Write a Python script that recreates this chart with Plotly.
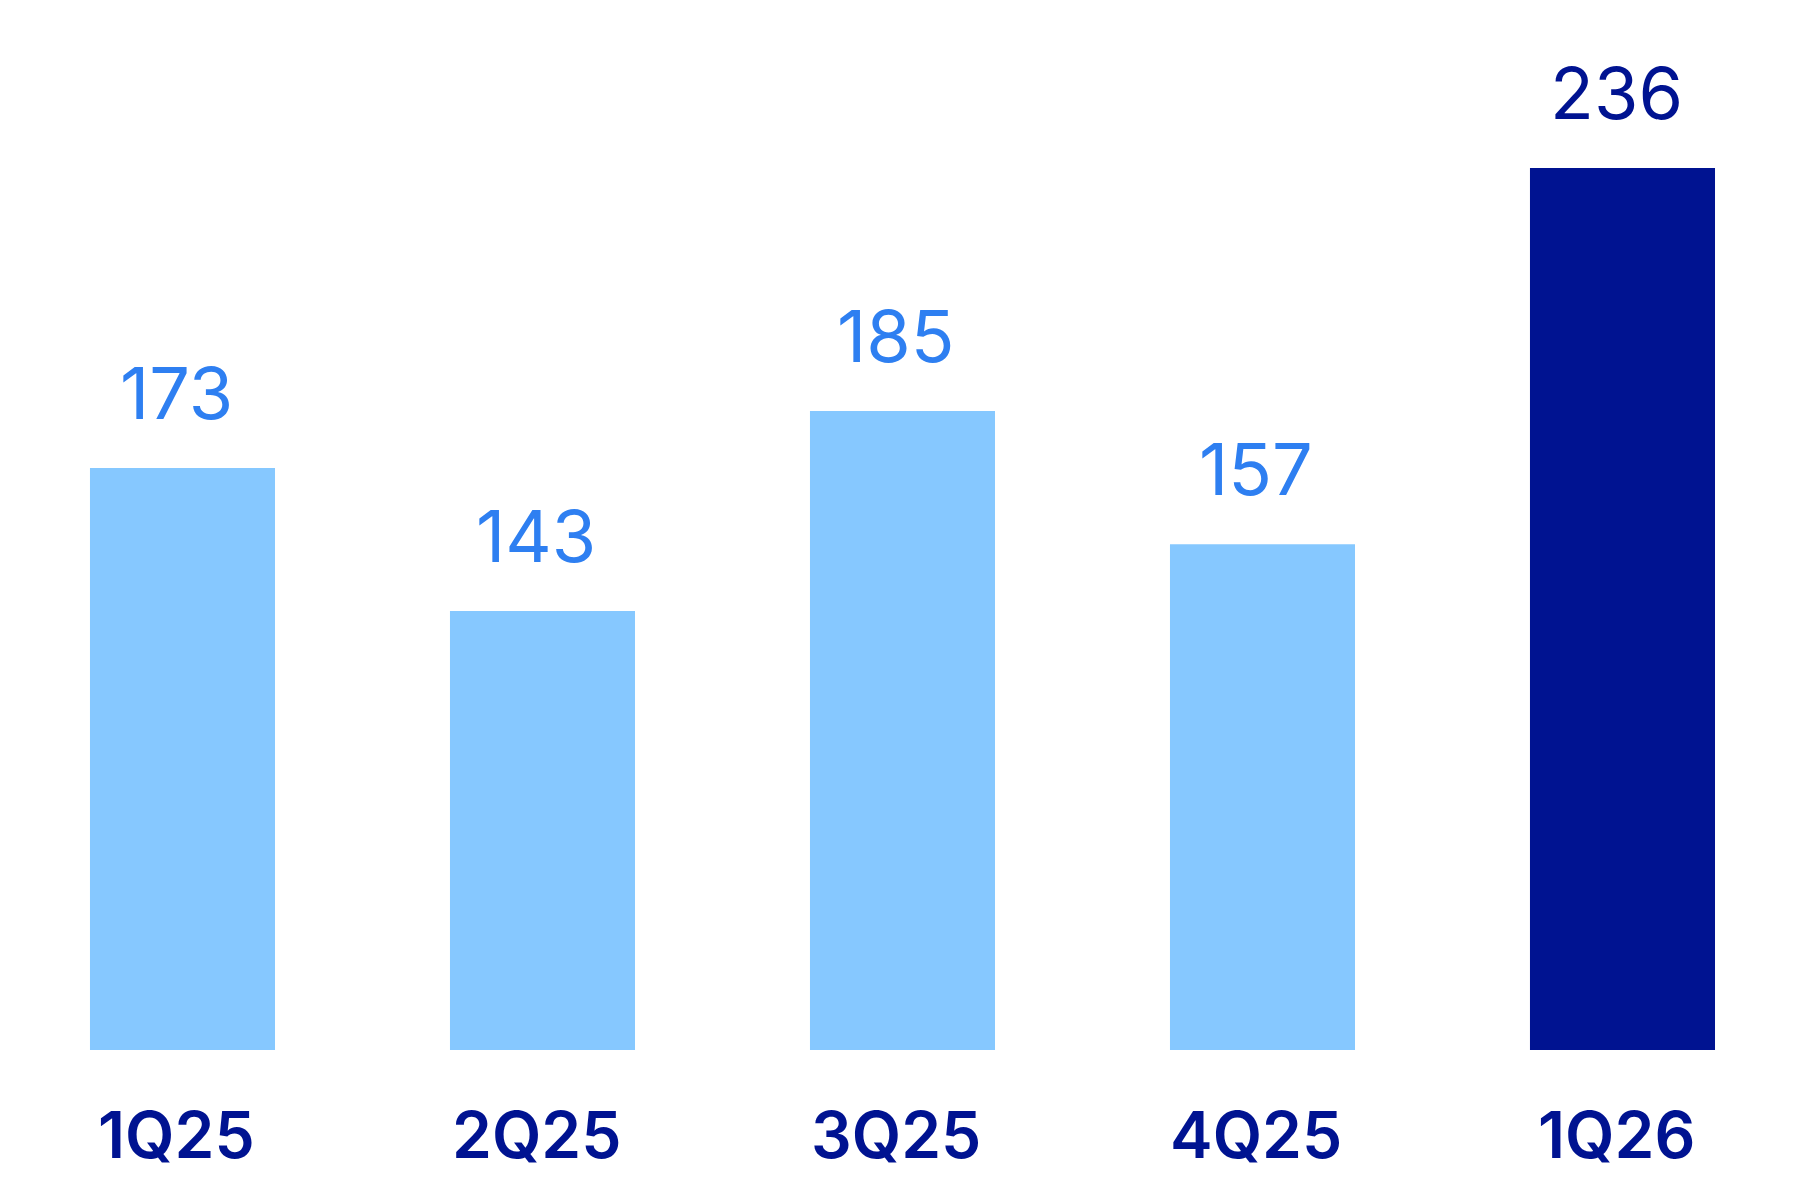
import plotly.graph_objects as go

# quarters and values
quarters = ['1Q25', '2Q25', '3Q25', '4Q25', '1Q26']
values = [173, 143, 185, 157, 236]
bar_colors = ['#86C8FF', '#86C8FF', '#86C8FF', '#86C8FF', '#001391']
label_colors = ['#2E7FF1', '#2E7FF1', '#2E7FF1', '#2E7FF1', '#001391']

fig = go.Figure(go.Bar(
    x=quarters, y=values,
    marker=dict(color=bar_colors, line=dict(width=0)),
    width=0.514,
    hoverinfo='skip'
))

# value labels above each bar
for q, v, c in zip(quarters, values, label_colors):
    fig.add_annotation(x=q, y=v, text=str(v), showarrow=False,
                       yanchor='bottom', yshift=30, xshift=-6,
                       font=dict(family='Inter', size=72, color=c))

# quarter labels under the bars
for q in quarters:
    fig.add_annotation(x=q, y=0, yref='paper', text=q, showarrow=False,
                       yanchor='top', yshift=-44, xshift=-6,
                       font=dict(family='Inter', size=64, color='#001391', weight=600))

fig.update_layout(
    width=1800, height=1200,
    margin=dict(l=0, r=0, t=30, b=158),
    paper_bgcolor='white', plot_bgcolor='white',
    showlegend=False,
    xaxis=dict(range=[-0.4847, 4.5153], showticklabels=False, showgrid=False,
               zeroline=False, showline=False, ticks=''),
    yaxis=dict(range=[50.8, 263.3], visible=False, showgrid=False, zeroline=False),
)

fig.write_html("out.html")
